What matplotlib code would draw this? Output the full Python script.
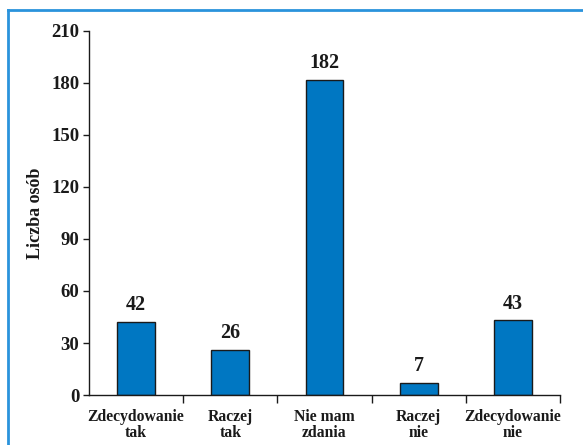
import matplotlib
matplotlib.use("Agg")
import matplotlib.pyplot as plt
from matplotlib.lines import Line2D

categories = ["Zdecydowanie\ntak", "Raczej\ntak", "Nie mam\nzdania", "Raczej\nnie", "Zdecydowanie\nnie"]
counts = [42, 26, 182, 7, 43]
y_ticks = [0, 30, 60, 90, 120, 150, 180, 210]

plt.rcParams["font.family"] = ["Liberation Serif", "DejaVu Serif"]
plt.rcParams["font.weight"] = "bold"

W, H = 583, 445
fig = plt.figure(figsize=(W / 100, H / 100), dpi=100)
ax = fig.add_axes([89 / W, 1 - 395 / H, (560 - 89) / W, (395 - 31) / H])

x = list(range(len(categories)))
bars = ax.bar(x, counts, width=0.4, color="#0077c2", edgecolor="#1a1a1a", linewidth=1.0)
for xi, v in zip(x, counts):
    ax.text(xi, v + 4, str(v), ha="center", va="bottom", fontsize=14.5, fontweight="bold", color="#1a1a1a")

ax.set_xlim(-0.5, len(categories) - 0.5)
ax.set_ylim(0, 210)
ax.set_yticks(y_ticks)
ax.set_yticklabels([str(t) for t in y_ticks], fontsize=13.5, fontweight="bold", color="#1a1a1a")
ax.set_xticks(x)
ax.set_xticklabels(categories, fontsize=11.3, fontweight="bold", color="#1a1a1a", linespacing=1.05)
ax.tick_params(axis="x", length=0, pad=10)
ax.set_xticks([i + 0.5 for i in x], minor=True)
ax.tick_params(axis="x", which="minor", length=6, width=1, direction="out", color="#1a1a1a")
ax.tick_params(axis="y", length=4, width=1, direction="out", color="#1a1a1a", pad=3)

for side in ("top", "right"):
    ax.spines[side].set_visible(False)
for side in ("left", "bottom"):
    ax.spines[side].set_linewidth(1.0)
    ax.spines[side].set_color("#1a1a1a")

ax.set_ylabel("Liczba osób", fontsize=13, fontweight="bold", color="#1a1a1a", labelpad=5)

# blue frame around the figure (left and top edges)
frame_color = "#2a93dc"
fig.add_artist(Line2D([8 / W, 8 / W], [0, 1 - 10 / H], color=frame_color, linewidth=2, transform=fig.transFigure))
fig.add_artist(Line2D([8 / W, 1], [1 - 10 / H, 1 - 10 / H], color=frame_color, linewidth=2, transform=fig.transFigure))

fig.savefig("out.png", dpi=100)
